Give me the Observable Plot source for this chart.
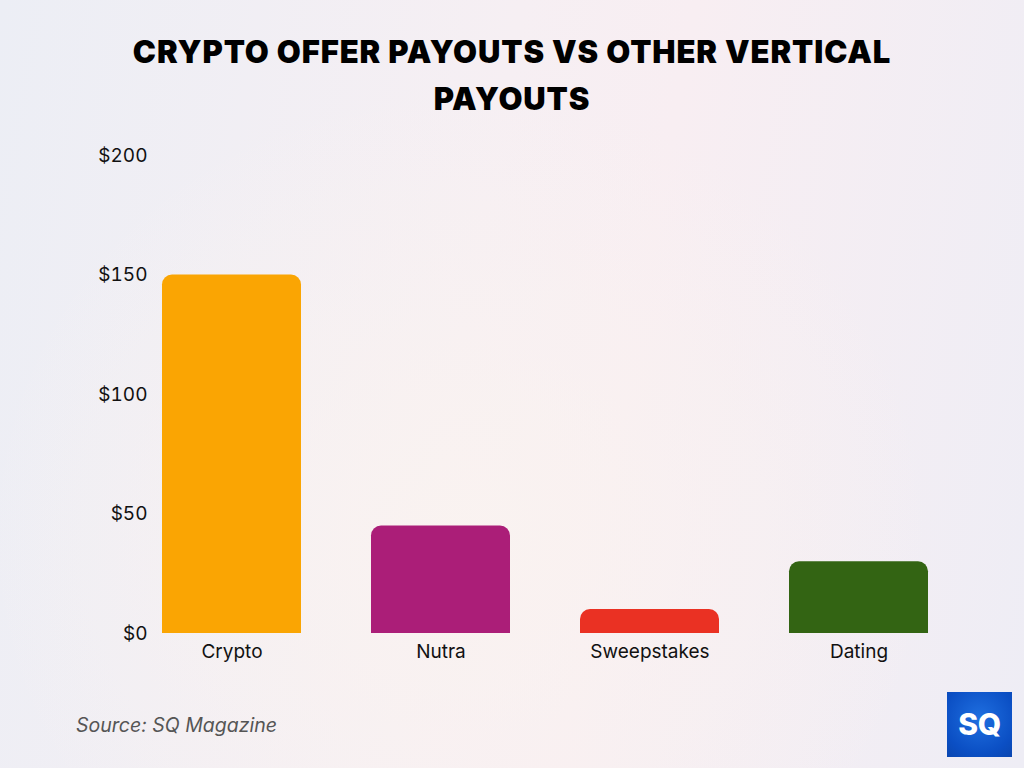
<!DOCTYPE html>
<html>
<head>
<meta charset="utf-8">
<script src="https://cdn.jsdelivr.net/npm/d3@7"></script>
<script src="https://cdn.jsdelivr.net/npm/@observablehq/plot@0.6"></script>
<style>
  html, body { margin: 0; padding: 0; }
  body {
    width: 1024px; height: 768px; overflow: hidden; position: relative;
    background:
      radial-gradient(ellipse at 45% 70%, rgba(250,243,240,0.9) 0%, rgba(250,243,240,0) 60%),
      linear-gradient(100deg, #eceef5 0%, #f6eff3 45%, #f8eef2 60%, #eeedf5 100%);
    font-family: Inter, "Noto Sans", sans-serif;
  }
  #title {
    position: absolute; left: 0; top: 28px; width: 1024px; text-align: center;
    font-family: Inter, sans-serif; font-weight: 900; font-size: 31px; line-height: 47px;
    color: #000; letter-spacing: 0.9px;
  }
  #chart { position: absolute; left: 0; top: 130px; }
  #source {
    position: absolute; left: 76px; top: 713px; font-style: italic; font-size: 19.5px; color: #555;
  }
  #logo {
    position: absolute; left: 947px; top: 692px; width: 65px; height: 65px;
    background: radial-gradient(circle at 50% 40%, #1f6fe0 0%, #0b4fc4 70%, #0a46b0 100%);
    color: #fff; font-weight: 800; font-size: 30px; line-height: 65px; text-align: center;
    font-family: Inter, sans-serif; letter-spacing: -0.5px;
  }
</style>
</head>
<body>
<div id="title">CRYPTO OFFER PAYOUTS VS OTHER VERTICAL<br>PAYOUTS</div>
<div id="chart"></div>
<div id="source">Source: SQ Magazine</div>
<div id="logo">SQ</div>
<script>
const categories = ["Crypto", "Nutra", "Sweepstakes", "Dating"];
const payouts = [150, 45, 10, 30];
const colors = ["#FAA503", "#AB1E78", "#EA3123", "#336413"];
const yTicks = [0, 50, 100, 150, 200];

const data = categories.map((c, i) => ({category: c, payout: payouts[i]}));

const chart = Plot.plot({
  width: 1024,
  height: 540,
  marginLeft: 150,
  marginRight: 84,
  marginTop: 25,
  marginBottom: 37,
  style: {background: "transparent", fontFamily: "Inter, sans-serif", fontSize: "19px", color: "#111"},
  x: {domain: categories, paddingInner: 0.335, paddingOuter: 0.0574, label: null, tickSize: 0, tickPadding: 11},
  y: {domain: [0, 200], ticks: yTicks, tickFormat: d => "$" + d, label: null, tickSize: 0, tickPadding: 3},
  color: {domain: categories, range: colors},
  marks: [
    Plot.barY(data, {x: "category", y: "payout", fill: "category", ry1: 10})
  ]
});
document.getElementById("chart").appendChild(chart);
</script>
</body>
</html>
